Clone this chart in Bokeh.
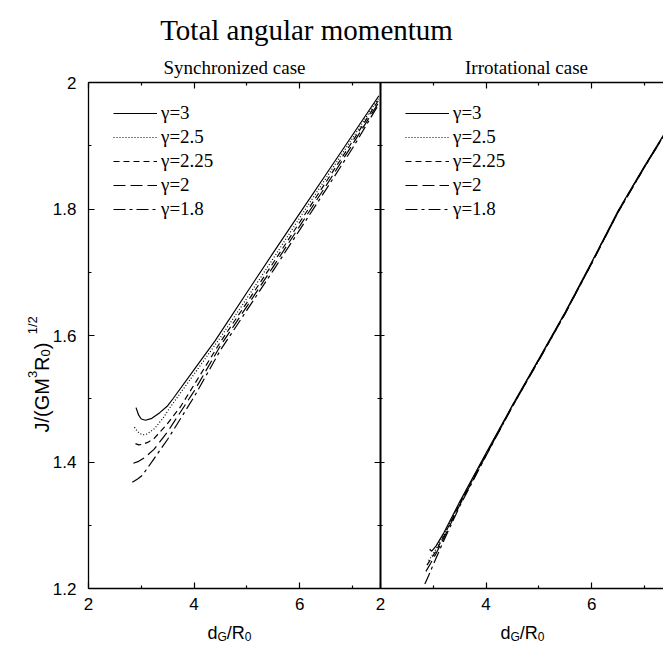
import math
from bokeh.plotting import figure
from bokeh.models import Range1d, LinearAxis, FixedTicker, Legend, LegendItem, Label
from bokeh.core.properties import value
from bokeh.embed import file_html
from bokeh.resources import INLINE

# ---------------- data ----------------
gamma_labels = ["γ=3", "γ=2.5", "γ=2.25", "γ=2", "γ=1.8"]
x_ticks = [2, 4, 6]
x_minor = [3, 5, 7]
y_ticks = [1.2, 1.4, 1.6, 1.8, 2.0]
y_tick_labels = ["1.2", "1.4", "1.6", "1.8", "2"]
y_minor = [1.3, 1.5, 1.7, 1.9]

# Synchronized case
sync_x_g3 = [2.90, 2.95, 3.00, 3.08, 3.20, 3.35, 3.50, 3.60, 4.00, 4.40, 5.00, 5.50, 6.00, 6.50, 7.00, 7.50]
sync_y_g3 = [1.486, 1.474, 1.468, 1.466, 1.469, 1.478, 1.489, 1.500, 1.546, 1.592, 1.668, 1.731, 1.793, 1.855, 1.917, 1.979]
sync_x_g25 = [2.87, 2.92, 2.97, 3.03, 3.10, 3.24, 3.40, 3.55, 4.00, 4.50, 5.00, 5.50, 6.00, 6.50, 7.00, 7.50]
sync_y_g25 = [1.455, 1.449, 1.445, 1.443, 1.444, 1.452, 1.468, 1.487, 1.539, 1.597, 1.659, 1.722, 1.786, 1.849, 1.912, 1.976]
sync_x_g225 = [2.89, 2.95, 3.02, 3.12, 3.24, 3.49, 3.74, 4.00, 4.50, 5.00, 5.50, 6.00, 6.50, 7.00, 7.50]
sync_y_g225 = [1.429, 1.427, 1.428, 1.431, 1.437, 1.460, 1.487, 1.522, 1.590, 1.652, 1.715, 1.779, 1.843, 1.907, 1.973]
sync_x_g2 = [2.85, 2.95, 3.08, 3.24, 3.50, 4.00, 4.50, 5.00, 5.50, 6.00, 6.50, 7.00, 7.50]
sync_y_g2 = [1.398, 1.401, 1.408, 1.420, 1.448, 1.512, 1.584, 1.646, 1.709, 1.773, 1.837, 1.902, 1.969]
sync_x_g18 = [2.83, 2.93, 3.02, 3.24, 3.50, 4.00, 4.50, 5.00, 5.50, 6.00, 6.50, 7.00, 7.50]
sync_y_g18 = [1.368, 1.373, 1.379, 1.405, 1.436, 1.503, 1.577, 1.640, 1.703, 1.767, 1.831, 1.896, 1.966]

# Irrotational case
irr_x_g3 = [2.93, 2.97, 3.05, 3.20, 3.50, 4.00, 4.50, 5.00, 5.50, 6.00, 6.50, 7.00, 7.50]
irr_y_g3 = [1.262, 1.259, 1.267, 1.288, 1.337, 1.414, 1.490, 1.563, 1.637, 1.716, 1.797, 1.868, 1.936]
irr_x_g25 = [2.91, 2.96, 3.05, 3.20, 3.50, 4.00, 4.50, 5.00, 5.50, 6.00, 6.50, 7.00, 7.50]
irr_y_g25 = [1.244, 1.250, 1.262, 1.285, 1.335, 1.413, 1.489, 1.562, 1.636, 1.715, 1.796, 1.867, 1.935]
irr_x_g225 = [2.88, 2.95, 3.05, 3.20, 3.50, 4.00, 4.50, 5.00, 5.50, 6.00, 6.50, 7.00, 7.50]
irr_y_g225 = [1.237, 1.246, 1.259, 1.283, 1.334, 1.412, 1.489, 1.562, 1.636, 1.715, 1.796, 1.867, 1.935]
irr_x_g2 = [2.86, 2.95, 3.05, 3.20, 3.50, 4.00, 4.50, 5.00, 5.50, 6.00, 6.50, 7.00, 7.50]
irr_y_g2 = [1.227, 1.240, 1.255, 1.280, 1.332, 1.411, 1.488, 1.561, 1.635, 1.714, 1.795, 1.866, 1.934]
irr_x_g18 = [2.84, 2.90, 3.00, 3.20, 3.50, 4.00, 4.50, 5.00, 5.50, 6.00, 6.50, 7.00, 7.50]
irr_y_g18 = [1.207, 1.218, 1.238, 1.276, 1.330, 1.410, 1.488, 1.561, 1.635, 1.714, 1.795, 1.866, 1.934]

sync_series = [(sync_x_g3, sync_y_g3), (sync_x_g25, sync_y_g25), (sync_x_g225, sync_y_g225),
               (sync_x_g2, sync_y_g2), (sync_x_g18, sync_y_g18)]
irr_series = [(irr_x_g3, irr_y_g3), (irr_x_g25, irr_y_g25), (irr_x_g225, irr_y_g225),
              (irr_x_g2, irr_y_g2), (irr_x_g18, irr_y_g18)]

# ---------------- layout (canvas pixels) ----------------
W, H = 663, 646
PANEL_L, PANEL_T, PANEL_B = 88, 82, 588     # left edge / top / bottom of the panels
LEFT_W = 292                                 # width of the left panel
PX = 52.8                                    # px per x unit
PY = (PANEL_B - PANEL_T) / (y_ticks[-1] - y_ticks[0])

def xd(px_):           # canvas x -> left-panel data x
    return x_ticks[0] + (px_ - PANEL_L) / PX

def yd(py_):           # canvas y -> data y
    return y_ticks[0] + (PANEL_B - py_) / PY

DIV_X = xd(PANEL_L + LEFT_W)
IRR_OFF = DIV_X - x_ticks[0]

p = figure(width=W, height=H, output_backend="svg", toolbar_location=None,
           x_range=Range1d(xd(0), xd(W)), y_range=Range1d(yd(H), yd(0)),
           x_axis_type=None, y_axis_type=None,
           min_border=0, min_border_left=0, min_border_right=0,
           min_border_top=0, min_border_bottom=0)
p.extra_x_ranges = {"irr": Range1d(xd(0) - IRR_OFF, xd(W) - IRR_OFF)}
p.outline_line_color = None
p.background_fill_color = "white"
p.border_fill_color = "white"

LBL_FONT = "Liberation Sans"
LBL_SIZE = "17px"
X_BOUNDS = (x_ticks[0], DIV_X)
XI_BOUNDS = (x_ticks[0], xd(W) - IRR_OFF + 1)
Y_BOUNDS = (y_ticks[0], y_ticks[-1])

def style(ax, labels=True, line=True, lw=1.3):
    ax.major_tick_in = 6
    ax.major_tick_out = 0
    ax.minor_tick_in = 3
    ax.minor_tick_out = 0
    ax.major_tick_line_color = "black"
    ax.minor_tick_line_color = "black"
    ax.major_tick_line_width = 1.2
    ax.minor_tick_line_width = 1.2
    ax.axis_line_color = "black" if line else None
    ax.axis_line_width = lw
    if labels:
        ax.major_label_text_font = LBL_FONT
        ax.major_label_text_font_size = LBL_SIZE
        ax.major_label_text_color = "black"
    else:
        ax.major_label_text_color = None
        ax.major_label_standoff = 0

xt = lambda: FixedTicker(ticks=x_ticks, minor_ticks=x_minor)
yt = lambda: FixedTicker(ticks=y_ticks, minor_ticks=y_minor)

# bottom axes
ax_b = LinearAxis(ticker=xt(), fixed_location=y_ticks[0], bounds=X_BOUNDS)
style(ax_b)
ax_b.major_label_standoff = 9
p.add_layout(ax_b, "below")
ax_b2 = LinearAxis(ticker=xt(), x_range_name="irr", fixed_location=y_ticks[0], bounds=XI_BOUNDS)
style(ax_b2)
ax_b2.major_label_standoff = 9
p.add_layout(ax_b2, "below")

# top axes
ax_t = LinearAxis(ticker=xt(), fixed_location=y_ticks[-1], bounds=X_BOUNDS)
style(ax_t, labels=False)
p.add_layout(ax_t, "above")
ax_t2 = LinearAxis(ticker=xt(), x_range_name="irr", fixed_location=y_ticks[-1], bounds=XI_BOUNDS)
style(ax_t2, labels=False)
p.add_layout(ax_t2, "above")

# left axis
ax_l = LinearAxis(ticker=yt(), fixed_location=x_ticks[0], bounds=Y_BOUNDS,
                  major_label_overrides=dict(zip(y_ticks, y_tick_labels)))
style(ax_l)
ax_l.major_label_standoff = 12
p.add_layout(ax_l, "left")

# divider between panels
ax_d = LinearAxis(ticker=yt(), fixed_location=DIV_X, bounds=Y_BOUNDS)
style(ax_d, labels=False, lw=2)
ax_d.major_tick_out = 6
ax_d.major_tick_in = 4
ax_d.minor_tick_out = 3
ax_d.minor_tick_in = 2
p.add_layout(ax_d, "left")

# ---------------- curves ----------------
dashes = ["solid", "1 2", "6 4", "12 5", "12 4 3 4"]

sync_r, irr_r = [], []
for (xs, ys), d in zip(sync_series, dashes):
    sync_r.append(p.line(xs, ys, line_color="black", line_width=1.2, line_dash=d))
for (xs, ys), d in zip(irr_series, dashes):
    irr_r.append(p.line(xs, ys, line_color="black", line_width=1.2, line_dash=d, x_range_name="irr"))

def make_legend(renderers, loc):
    leg = Legend(items=[LegendItem(label=value(t), renderers=[r]) for t, r in zip(gamma_labels, renderers)],
                 location=loc, orientation="vertical",
                 glyph_width=44, glyph_height=20, label_height=20, spacing=2,
                 label_standoff=4, padding=0, margin=0,
                 border_line_color=None, background_fill_alpha=0,
                 label_text_font="Liberation Serif", label_text_font_size="19px",
                 label_text_color="black")
    p.add_layout(leg, "center")

make_legend(sync_r, (113, 426))
make_legend(irr_r, (405, 426))

# ---------------- texts ----------------
def add_text(txt, px_, py_, size, font="Liberation Serif", align="left", angle=0.0):
    p.add_layout(Label(x=xd(px_), y=yd(py_), text=txt, text_font=font, text_font_size=size,
                       text_align=align, text_baseline="alphabetic", text_color="black",
                       angle=angle))

add_text("Total angular momentum", 306, 29, "29px", align="center")
add_text("Synchronized case", 234, 67, "19px", align="center")
add_text("Irrotational case", 526, 67, "19px", align="center")

# x axis titles: d_G/R_0
def x_title(start):
    xx = start
    for t, size, w, dy in [("d", "18px", 10.0, 0), ("G", "12px", 9.3, 4),
                           ("/R", "18px", 18.0, 0), ("0", "12px", 6.7, 4)]:
        add_text(t, xx, 632 + dy, size, font=LBL_FONT)
        xx += w

x_title(207)
x_title(500)

# y axis title: J/(GM^3R_0)^{1/2}, rotated (reads bottom to top)
yy = 432
for t, size, w, dx in [("J/(GM", "20px", 54.4, 0), ("3", "13px", 7.2, -9),
                       ("R", "20px", 14.4, 0), ("0", "13px", 7.2, 4),
                       (")", "20px", 15.0, 0), ("1/2", "13px", 18.1, -9)]:
    add_text(t, 41 + dx, yy, size, font=LBL_FONT, angle=math.pi / 2)
    yy -= w

open("out.html", "w").write(file_html(p, INLINE))
